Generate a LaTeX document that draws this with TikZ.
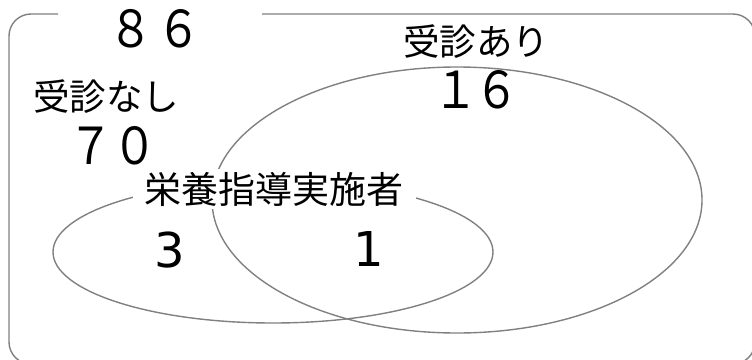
\documentclass[tikz,border=0pt]{standalone}
\usepackage{fontspec}
\newfontfamily\jp{Noto Sans CJK JP}
\newfontfamily\jpnum{Noto Sans CJK JP}[FakeStretch=0.88]
\newfontfamily\dvs{DejaVu Sans}
\begin{document}
\begin{tikzpicture}[x=1pt,y=-1pt,
  line/.style={draw=black!50, line width=1.4pt},
  lbl/.style={font=\jp\fontsize{36.5}{40}\selectfont, inner sep=0pt, anchor=base, text=black},
  fwnum/.style={font=\jpnum\fontsize{51}{54}\selectfont, inner sep=0pt, anchor=base, text=black},
  hwnum/.style={font=\dvs\fontsize{48}{52}\selectfont, inner sep=0pt, anchor=base, text=black}]
\useasboundingbox (0,0) rectangle (752,359);
% outer frame with a gap for the total
\draw[line, rounded corners=22pt] (262,14) -- (755,14) -- (755,364) -- (9,364) -- (9,14) -- (58,14);
% sets
\draw[line] (457,200) ellipse [x radius=245pt, y radius=133pt];
\draw[line] (273,252) ellipse [x radius=220pt, y radius=71pt];
% labels
\node[fwnum] (n86) at (155,47) {８\hspace{4pt}６};
\node[lbl, anchor=base west] (nashi) at (33,110) {受診なし};
\node[fwnum] (n70) at (113,164) {７\hspace{-1pt}０};
\node[lbl] (ari) at (476,55) {受診あり};
\node[fwnum] (n16) at (476,108) {１\hspace{-4pt}６};
\node[lbl, font=\jp\fontsize{37}{40}\selectfont, fill=white, inner xsep=12pt, inner ysep=3pt] (eiyo) at (274,203) {栄養指導実施者};
\node[hwnum] (n3) at (170,267) {3};
\node[hwnum] (n1) at (369,266) {1};
\end{tikzpicture}
\end{document}
